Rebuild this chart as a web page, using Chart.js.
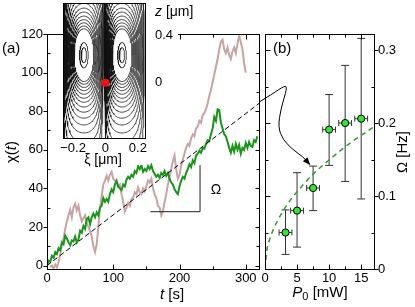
<!DOCTYPE html>
<html>
<head>
<meta charset="utf-8">
<script src="https://cdn.jsdelivr.net/npm/chart.js@4.4.1/dist/chart.umd.min.js"></script>
<style>
  body { margin: 0; background: #fff; }
  #wrap { position: relative; width: 415px; height: 307px; overflow: hidden; background: #fff; }
  canvas { position: absolute; top: 0; }
</style>
</head>
<body>
<div id="wrap">
  <canvas id="chartA" width="262" height="307" style="left:0px"></canvas>
  <canvas id="inset" width="150" height="170" style="left:55px"></canvas>
  <canvas id="chartB" width="160" height="307" style="left:255px"></canvas>
</div>
<script>
// ---- panel (a): chi(t) traces ----
const tStepGreen = 2.5;
const chiGreen = [
  0, 2.5, 2, 5, 4, 7, 6, 9, 8, 12,
  11, 15.5, 14, 12, 10.5, 13, 12.5, 15, 12, 13.5,
  18, 17, 20.5, 19, 24, 25, 21.5, 25, 27, 25,
  27.5, 26, 30, 31, 35, 33, 34.5, 33, 37, 39.5,
  38, 42, 44, 41, 40, 39, 42, 41, 44.5, 46,
  45, 47, 46, 49, 48, 51.5, 50, 52, 48.5, 50,
  49, 51.5, 50, 52, 49, 47.5, 46, 47, 45.5, 48,
  47, 49, 46.5, 48, 45, 43, 42, 39.5, 38, 37,
  41, 44, 46, 45, 48, 50, 52.5, 51, 54.5, 53,
  57, 58, 59.5, 58.5, 61, 60.5, 63, 65, 64.5, 68,
  71, 77, 75, 81, 80.5, 74, 71, 68, 67, 64,
  61, 58.5, 62, 59, 63, 60, 62.5, 58, 61, 60,
  63.5, 61, 64, 62, 61.5, 65, 64, 67
];
const tGreen = chiGreen.map((_, i) => i * tStepGreen);

const tPinkStart = 5;
const chiPink = [
  -1, 0, -1.5, 0.5, -1, 2, 6, 11, 14, 19,
  23, 26, 29, 25, 30, 32, 28.5, 31, 26, 23,
  24.5, 26, 22, 20, 18, 15, 10, 7, 11, 20,
  30, 36, 42, 44, 46.5, 44, 47, 48.5, 45, 44,
  43.5, 41, 42, 37, 33, 28, 30, 32.5, 31, 34.5,
  35, 38, 37, 40.5, 38, 37, 40, 38.5, 41, 44,
  43, 45, 40, 37, 35, 31, 30, 26, 28, 33,
  37, 42, 46, 50, 54, 57, 50, 45, 47, 52,
  55, 58, 61, 63, 62, 66, 68, 67, 71, 72,
  75, 74, 78, 79, 81, 84, 88, 91, 95, 99,
  103, 107, 112, 116, 117, 112, 110, 113, 109, 107,
  111, 113, 110, 115, 119, 116, 112, 105, 100
];
const tPink = chiPink.map((_, i) => tPinkStart + i * 2.5);

const fitT = [0, 320];
const fitChi = [0, 84];
const triT = [156, 231, 231];
const triChi = [27.9, 27.9, 52.1];

const tTicks = [0, 100, 200, 300];
const chiTicks = [0, 20, 40, 60, 80, 100, 120];

// ---- panel (b): Omega vs P0 ----
const P0 = [3.2, 5.0, 7.5, 10.0, 12.5, 15.0];
const omega = [0.050, 0.080, 0.111, 0.191, 0.200, 0.206];
const omegaLo = [0.020, 0.030, 0.080, 0.142, 0.120, 0.096];
const omegaHi = [0.081, 0.132, 0.141, 0.239, 0.279, 0.316];
const P0err = [1.0, 1.0, 1.0, 1.0, 1.0, 1.0];
const fitP = [0, 0.3, 0.7, 1.2, 2, 3, 4, 5, 6, 7.5, 9, 10.5, 12, 13.5, 15, 17];
const fitOmega = [0, 0.026, 0.040, 0.052, 0.067, 0.082, 0.095, 0.106, 0.116, 0.130, 0.142, 0.153, 0.164, 0.174, 0.183, 0.195];
const pTicks = [0, 5, 10, 15];
const omegaTicks = [0, 0.1, 0.2, 0.3];
const omegaLabels = ['0', '0.1', '0.2', '0.3'];
// annotation arrow from (a) to (b), in (b) units
const arrowP = [-0.94, 1.09, 3.13, 3.44, 2.5, 2.03, 2.81, 4.38, 5.94, 6.88];
const arrowO = [0.2286, 0.2395, 0.2517, 0.2476, 0.2204, 0.1946, 0.1769, 0.1633, 0.1537, 0.1442];

// ---- inset: streamlines ----
const vortexXi = [-0.133, 0.102];
const vortexZ = [0.235, 0.235];
const separatrixXi = -0.009;
const wallXi = [-0.262, 0.244];
const coreLevels = [0.016, 0.027];
const ringLevels = [0.066, 0.073, 0.081, 0.089, 0.098, 0.108, 0.118, 0.130, 0.143,
  0.158, 0.175, 0.195, 0.220, 0.250, 0.290];
const xiTicks = [-0.2, 0, 0.2];
const zTicks = [0, 0.4];

const F = '"Liberation Sans", Arial, Helvetica, sans-serif';
const xy = (xs, ys) => xs.map((x, i) => ({ x: x, y: ys[i] }));

function rich(ctx, parts, x, y, rot, align) {
  ctx.save();
  ctx.translate(x, y);
  if (rot) ctx.rotate(rot);
  ctx.textBaseline = 'middle';
  ctx.textAlign = 'left';
  ctx.fillStyle = '#000';
  const fnt = p => (p[2] === 'i' ? 'italic ' : '') + p[1] + 'px ' + F;
  let w = 0;
  parts.forEach(p => { ctx.font = fnt(p); w += ctx.measureText(p[0]).width; });
  let cx = align === 'left' ? 0 : -w / 2;
  parts.forEach(p => {
    ctx.font = fnt(p);
    ctx.fillText(p[0], cx, p[3] || 0);
    cx += ctx.measureText(p[0]).width;
  });
  ctx.restore();
}

// box + tick marks (len > 0 inward, < 0 outward)
const framePlugin = {
  id: 'frame',
  afterDatasetsDraw(chart, args, opts) {
    const ctx = chart.ctx, a = chart.chartArea;
    ctx.save();
    ctx.strokeStyle = '#000';
    ctx.lineWidth = 1;
    ctx.strokeRect(Math.round(a.left) + 0.5, Math.round(a.top) + 0.5,
      Math.round(a.right - a.left), Math.round(a.bottom - a.top));
    (opts.ticks || []).forEach(s => {
      const sc = chart.scales[s.axis];
      s.values.forEach(v => {
        const p = Math.round(sc.getPixelForValue(v)) + 0.5;
        ctx.beginPath();
        if (s.axis === 'x') {
          const y0 = s.side === 'top' ? Math.round(a.top) + 0.5 : Math.round(a.bottom) + 0.5;
          const d = (s.side === 'top' ? 1 : -1) * s.len;
          ctx.moveTo(p, y0); ctx.lineTo(p, y0 + d);
        } else {
          const x0 = s.side === 'left' ? Math.round(a.left) + 0.5 : Math.round(a.right) + 0.5;
          const d = (s.side === 'left' ? 1 : -1) * s.len;
          ctx.moveTo(x0, p); ctx.lineTo(x0 + d, p);
        }
        ctx.stroke();
      });
    });
    ctx.restore();
  }
};

const tickFont = { family: F, size: 13 };
const noGrid = { display: false, drawTicks: false, tickLength: 0 };

// ---------- chart (a) ----------
new Chart(document.getElementById('chartA'), {
  type: 'scatter',
  data: {
    datasets: [
      { data: xy(fitT, fitChi), showLine: true, borderColor: '#000', borderWidth: 1, borderDash: [5, 3], pointRadius: 0 },
      { data: xy(triT, triChi), showLine: true, borderColor: '#222', borderWidth: 1, pointRadius: 0 },
      { data: xy(tGreen, chiGreen), showLine: true, borderColor: '#179617', borderWidth: 2, pointRadius: 0 },
      { data: xy(tPink, chiPink), showLine: true, borderColor: '#c9a3a3', borderWidth: 2, pointRadius: 0 }
    ]
  },
  options: {
    responsive: false, animation: false, events: [],
    layout: { padding: { top: 34, right: 3, left: 0, bottom: 0 } },
    plugins: {
      legend: { display: false }, tooltip: { enabled: false },
      frame: {
        ticks: [
          { axis: 'x', side: 'bottom', len: 5, values: [0, 100, 200, 300] },
          { axis: 'x', side: 'bottom', len: 3, values: [50, 150, 250] },
          { axis: 'x', side: 'top', len: 5, values: [0, 100, 200, 300] },
          { axis: 'x', side: 'top', len: 3, values: [50, 150, 250] },
          { axis: 'y', side: 'left', len: -4, values: chiTicks },
          { axis: 'y', side: 'left', len: 3, values: [10, 30, 50, 70, 90, 110] },
          { axis: 'y', side: 'right', len: 4, values: chiTicks },
          { axis: 'y', side: 'right', len: 3, values: [10, 30, 50, 70, 90, 110] }
        ]
      }
    },
    scales: {
      x: {
        type: 'linear', min: 0, max: 320,
        grid: noGrid, border: { display: false },
        afterBuildTicks: s => { s.ticks = tTicks.map(v => ({ value: v })); },
        afterFit: s => { s.height = 38; },
        ticks: { font: tickFont, color: '#000', padding: 2, maxRotation: 0, autoSkip: false }
      },
      y: {
        type: 'linear', min: -1.8, max: 120,
        grid: noGrid, border: { display: false },
        afterBuildTicks: s => { s.ticks = chiTicks.map(v => ({ value: v })); },
        afterFit: s => { s.width = 47; },
        ticks: { font: tickFont, color: '#000', padding: 4, autoSkip: false }
      }
    }
  },
  plugins: [framePlugin, {
    id: 'textA',
    afterDraw(chart) {
      const ctx = chart.ctx;
      rich(ctx, [['(a)', 15]], 2, 49, 0, 'left');
      rich(ctx, [['χ(', 15], ['t', 15, 'i'], [')', 15]], 12, 152, -Math.PI / 2);
      rich(ctx, [['t', 15, 'i'], [' [s]', 15]], 172, 295);
      rich(ctx, [['Ω', 14]], 216, 190);
    }
  }]
});

// ---------- inset ----------
// closed streamline around a vortex, squeezed against the separatrix and the side wall
function loop(cx, cz, r, aspect, wall) {
  const sIn = Math.sign(separatrixXi - cx);
  const dIn = Math.abs(separatrixXi - cx);
  const dOut = Math.abs(wall - cx);
  const pts = [];
  for (let k = 0; k <= 140; k++) {
    const th = k / 140 * 2 * Math.PI;
    let dx = r * Math.cos(th);
    const dz = r * aspect * Math.sin(th);
    const below = Math.max(0, -Math.sin(th));
    const D = dx * sIn > 0 ? dIn * (1 - 0.1 * below) : dOut;
    dx = Math.sign(dx) * D * Math.tanh(Math.abs(dx) / D);
    pts.push({ x: cx + dx, y: cz + dz });
  }
  return pts;
}
const streamSets = [{ data: [{ x: 0, y: 0 }], pointRadius: 4, backgroundColor: '#ee1111', borderWidth: 0 }];
vortexXi.forEach((cx, i) => {
  coreLevels.forEach(r => streamSets.push({ data: loop(cx, vortexZ[i], r, 4.0, wallXi[i]), showLine: true, borderColor: '#111', borderWidth: 0.75, pointRadius: 0 }));
  ringLevels.forEach(r => streamSets.push({ data: loop(cx, vortexZ[i], r, 3.4, wallXi[i]), showLine: true, borderColor: '#111', borderWidth: 0.75, pointRadius: 0 }));
});

new Chart(document.getElementById('inset'), {
  type: 'scatter',
  data: { datasets: streamSets },
  options: {
    responsive: false, animation: false, events: [],
    layout: { padding: { left: 8, right: 60, top: 1, bottom: 32 } },
    plugins: { legend: { display: false }, tooltip: { enabled: false } },
    scales: {
      x: { type: 'linear', min: wallXi[0], max: wallXi[1], display: false },
      y: { type: 'linear', min: -0.471, max: 0.671, display: false }
    }
  },
  plugins: [{
    id: 'insetDeco',
    beforeDraw(chart) {
      const ctx = chart.ctx, a = chart.chartArea;
      ctx.save();
      ctx.fillStyle = '#fff';
      ctx.fillRect(a.left, 0, a.right - a.left + 1, a.bottom + 1);
      ctx.fillRect(a.right, 0, 33, 92);
      ctx.fillRect(0, a.bottom, a.right + 1, 27);
      ctx.restore();
    },
    afterDraw(chart) {
      const ctx = chart.ctx, a = chart.chartArea;
      ctx.save();
      ctx.strokeStyle = '#000';
      ctx.lineWidth = 1;
      ctx.strokeRect(Math.round(a.left) + 0.5, Math.round(a.top) - 0.5, Math.round(a.right - a.left), Math.round(a.bottom - a.top) + 1);
      ctx.restore();
      const sx = chart.scales.x, sy = chart.scales.y;
      xiTicks.forEach(v => rich(ctx, [[v === 0 ? '0' : (v < 0 ? '−' : '') + Math.abs(v).toFixed(1), 13]], sx.getPixelForValue(v), 148));
      rich(ctx, [['ξ [μm]', 14]], 48, 160);
      rich(ctx, [['z', 14, 'i'], [' [μm]', 14]], 100, 12, 0, 'left');
      zTicks.forEach(v => rich(ctx, [[v === 0 ? '0' : v.toFixed(1), 13]], 100, sy.getPixelForValue(v), 0, 'left'));
    }
  }]
});

// ---------- chart (b) ----------
new Chart(document.getElementById('chartB'), {
  type: 'scatter',
  data: {
    datasets: [
      { data: xy(P0, omega), pointRadius: 3.6, backgroundColor: '#2ee82e', borderColor: '#000', borderWidth: 1 },
      { data: xy(fitP, fitOmega), showLine: true, borderColor: '#2f9a2f', borderWidth: 1.5, borderDash: [5, 4], pointRadius: 0, cubicInterpolationMode: 'monotone' }
    ]
  },
  options: {
    responsive: false, animation: false, events: [],
    layout: { padding: { top: 34, right: 0, left: 10, bottom: 0 } },
    plugins: {
      legend: { display: false }, tooltip: { enabled: false },
      frame: {
        ticks: [
          { axis: 'x', side: 'bottom', len: 5, values: [5, 10, 15] },
          { axis: 'x', side: 'bottom', len: 3, values: [2.5, 7.5, 12.5] },
          { axis: 'x', side: 'top', len: 5, values: [5, 10, 15] },
          { axis: 'x', side: 'top', len: 3, values: [2.5, 7.5, 12.5] },
          { axis: 'y', side: 'left', len: 5, values: [0.1, 0.2, 0.3] },
          { axis: 'y', side: 'left', len: 3, values: [0.05, 0.15, 0.25] },
          { axis: 'y', side: 'right', len: -4, values: omegaTicks },
          { axis: 'y', side: 'right', len: 3, values: [0.05, 0.15, 0.25] }
        ]
      }
    },
    scales: {
      x: {
        type: 'linear', min: 0, max: 17,
        grid: noGrid, border: { display: false },
        afterBuildTicks: s => { s.ticks = pTicks.map(v => ({ value: v })); },
        afterFit: s => { s.height = 38; },
        ticks: { font: tickFont, color: '#000', padding: 2, maxRotation: 0, autoSkip: false }
      },
      y: {
        type: 'linear', position: 'right', min: 0, max: 0.322,
        grid: noGrid, border: { display: false },
        afterBuildTicks: s => { s.ticks = omegaTicks.map(v => ({ value: v })); },
        afterFit: s => { s.width = 41; },
        ticks: { display: false }
      }
    }
  },
  plugins: [{
    id: 'errorBars',
    beforeDatasetsDraw(chart) {
      const ctx = chart.ctx, sx = chart.scales.x, sy = chart.scales.y;
      ctx.save();
      ctx.strokeStyle = '#333';
      ctx.lineWidth = 1;
      P0.forEach((p, i) => {
        const x = sx.getPixelForValue(p), y = sy.getPixelForValue(omega[i]);
        const yl = sy.getPixelForValue(omegaLo[i]), yh = sy.getPixelForValue(omegaHi[i]);
        const xl = sx.getPixelForValue(p - P0err[i]), xh = sx.getPixelForValue(p + P0err[i]);
        ctx.beginPath();
        ctx.moveTo(x, yl); ctx.lineTo(x, yh);
        ctx.moveTo(x - 4, yl); ctx.lineTo(x + 4, yl);
        ctx.moveTo(x - 4, yh); ctx.lineTo(x + 4, yh);
        ctx.moveTo(xl, y); ctx.lineTo(xh, y);
        ctx.moveTo(xl, y - 3); ctx.lineTo(xl, y + 3);
        ctx.moveTo(xh, y - 3); ctx.lineTo(xh, y + 3);
        ctx.stroke();
      });
      ctx.restore();
    }
  }, framePlugin, {
    id: 'textB',
    afterDraw(chart) {
      const ctx = chart.ctx, sx = chart.scales.x, sy = chart.scales.y, a = chart.chartArea;
      omegaTicks.forEach((v, i) => rich(ctx, [[omegaLabels[i], 13]], a.right + 4, sy.getPixelForValue(v), 0, 'left'));
      rich(ctx, [['(b)', 15]], 18, 49, 0, 'left');
      rich(ctx, [['P', 15, 'i'], ['0', 11, '', 4], [' [mW]', 15]], 65, 293);
      rich(ctx, [['Ω [Hz]', 15]], 148, 152, -Math.PI / 2);
      // arrow
      const pts = arrowP.map((p, i) => [sx.getPixelForValue(p), sy.getPixelForValue(arrowO[i])]);
      ctx.save();
      ctx.strokeStyle = '#000';
      ctx.lineWidth = 1;
      ctx.beginPath();
      ctx.moveTo(pts[0][0], pts[0][1]);
      for (let i = 1; i < pts.length - 1; i++) {
        const mx = (pts[i][0] + pts[i + 1][0]) / 2, my = (pts[i][1] + pts[i + 1][1]) / 2;
        ctx.quadraticCurveTo(pts[i][0], pts[i][1], mx, my);
      }
      const tip = pts[pts.length - 1], prev = pts[pts.length - 2];
      ctx.lineTo(tip[0], tip[1]);
      ctx.stroke();
      const ang = Math.atan2(tip[1] - prev[1], tip[0] - prev[0]);
      ctx.fillStyle = '#000';
      ctx.beginPath();
      ctx.moveTo(tip[0] + 2 * Math.cos(ang), tip[1] + 2 * Math.sin(ang));
      ctx.lineTo(tip[0] - 6 * Math.cos(ang) + 3 * Math.sin(ang), tip[1] - 6 * Math.sin(ang) - 3 * Math.cos(ang));
      ctx.lineTo(tip[0] - 6 * Math.cos(ang) - 3 * Math.sin(ang), tip[1] - 6 * Math.sin(ang) + 3 * Math.cos(ang));
      ctx.closePath();
      ctx.fill();
      ctx.restore();
    }
  }]
});
</script>
</body>
</html>
